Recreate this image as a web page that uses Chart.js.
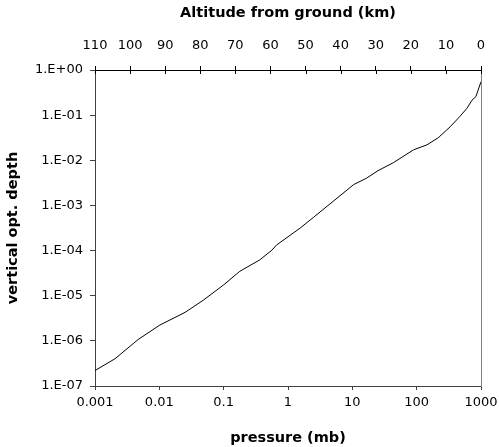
<!DOCTYPE html>
<html>
<head>
<meta charset="utf-8">
<script src="https://cdn.jsdelivr.net/npm/chart.js@4/dist/chart.umd.min.js"></script>
<style>html,body{margin:0;padding:0;background:#fff;}</style>
</head>
<body>
<canvas id="chart" width="499" height="447"></canvas>
<script>
// ── data ──
const pressure = [0.001, 0.00204, 0.00468, 0.0102, 0.0251, 0.0479, 0.1, 0.178, 0.363, 0.562, 0.66,
  1.55, 2.51, 5.13, 10.5, 16.6, 25.1, 43.7, 89.1, 145, 219, 331, 468, 603, 724, 832, 1000];
const optDepth = [2.2e-7, 4.0e-7, 1.07e-6, 2.24e-6, 4.27e-6, 7.9e-6, 1.74e-5, 3.47e-5, 6.2e-5, 1.02e-4, 1.32e-4,
  3.16e-4, 5.5e-4, 1.26e-3, 2.9e-3, 4.0e-3, 5.9e-3, 8.9e-3, 1.7e-2, 2.2e-2, 3.2e-2, 5.5e-2, 9.3e-2, 0.141, 0.214, 0.257, 0.55];
const pressureTicks = [0.001, 0.01, 0.1, 1, 10, 100, 1000];
const depthTicks = [1e-7, 1e-6, 1e-5, 1e-4, 1e-3, 1e-2, 1e-1, 1];
const altitudeTicks = [110, 100, 90, 80, 70, 60, 50, 40, 30, 20, 10, 0];

Chart.defaults.font.family = "'DejaVu Sans', sans-serif";
Chart.defaults.font.size = 13;
Chart.defaults.color = '#000';

const titleFont = { family: "'DejaVu Sans', sans-serif", size: 14.5, weight: 'bold' };
const fmtExp = v => {
  const e = Math.round(Math.log10(v));
  return '1.E' + (e >= 0 ? '+' : '-') + String(Math.abs(e)).padStart(2, '0');
};

// top axis ticks cross the line (draw the part that sits inside the plot)
const crossTicks = {
  id: 'crossTicks',
  afterDraw(chart) {
    const s = chart.scales.alt, ctx = chart.ctx, top = chart.chartArea.top;
    ctx.save();
    ctx.strokeStyle = '#000';
    ctx.lineWidth = 1;
    s.ticks.forEach(t => {
      const x = Math.round(s.getPixelForValue(t.value)) + 0.5;
      ctx.beginPath(); ctx.moveTo(x, top); ctx.lineTo(x, top + 4); ctx.stroke();
    });
    ctx.restore();
  }
};

// fixed box sizes so the plot area lands where the reference has it
const fixBox = (w, h) => s => {
  if (w != null) s.width = w;
  if (h != null) s.height = h;
  s.paddingLeft = s.paddingRight = s.paddingTop = s.paddingBottom = 0;
};

new Chart(document.getElementById('chart').getContext('2d'), {
  type: 'scatter',
  data: {
    datasets: [{
      data: pressure.map((p, i) => ({ x: p, y: optDepth[i] })),
      showLine: true, borderColor: '#000', borderWidth: 1, pointRadius: 0, tension: 0,
      xAxisID: 'x', yAxisID: 'y'
    }]
  },
  options: {
    responsive: false, animation: false, devicePixelRatio: 1,
    layout: { padding: 0 },
    plugins: { legend: { display: false }, tooltip: { enabled: false } },
    scales: {
      x: {
        type: 'logarithmic', position: 'bottom', min: 0.001, max: 1000,
        afterBuildTicks: s => { s.ticks = pressureTicks.map(v => ({ value: v })); },
        afterFit: fixBox(null, 61),
        ticks: { callback: v => String(v), padding: 5, maxRotation: 0, autoSkip: false },
        grid: { drawOnChartArea: false, tickLength: 4, color: '#404040' },
        border: { color: '#404040', width: 1 },
        title: { display: true, text: 'pressure (mb)', font: titleFont, padding: { top: 0, bottom: 0 } }
      },
      alt: {
        type: 'linear', position: 'top', min: 0, max: 110, reverse: true,
        afterBuildTicks: s => { s.ticks = altitudeTicks.map(v => ({ value: v })); },
        afterFit: fixBox(null, 70),
        ticks: { padding: 13, maxRotation: 0, autoSkip: false },
        grid: { drawOnChartArea: false, tickLength: 4, color: '#000' },
        border: { color: '#000', width: 1 },
        title: { display: true, text: 'Altitude from ground (km)', font: titleFont, padding: { top: 5, bottom: 0 } }
      },
      y: {
        type: 'logarithmic', position: 'left', min: 1e-7, max: 1,
        afterBuildTicks: s => { s.ticks = depthTicks.map(v => ({ value: v })); },
        afterFit: fixBox(95, null),
        ticks: { callback: fmtExp, padding: 7, autoSkip: false },
        grid: { drawOnChartArea: false, tickLength: 5, color: '#404040' },
        border: { color: '#404040', width: 1 },
        title: { display: true, text: 'vertical opt. depth', font: titleFont, padding: { top: 5, bottom: 0 } }
      },
      frame: {
        type: 'linear', position: 'right', min: 0, max: 1,
        afterFit: fixBox(18, null),
        ticks: { display: false },
        grid: { drawOnChartArea: false, drawTicks: false },
        border: { color: '#808080', width: 1 }
      }
    }
  },
  plugins: [crossTicks]
});
</script>
</body>
</html>
